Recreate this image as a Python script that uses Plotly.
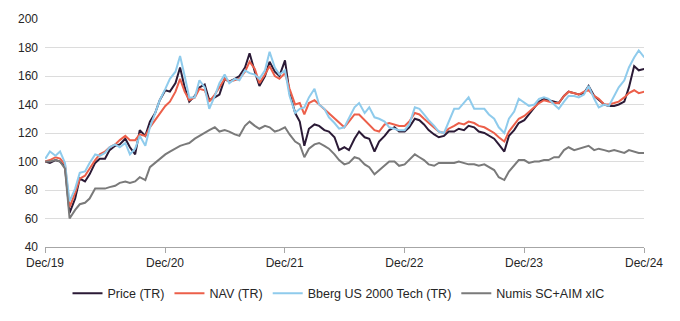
import pandas as pd
import plotly.graph_objects as go

# Semi-monthly observation dates (1st and 15th of each month), rebased to 100
dates = pd.date_range("2020-01-01", "2025-01-01", freq="SMS")

price_tr = [
    100, 99, 101, 100, 96, 64, 74, 88, 86, 91,
    99, 102, 102, 108, 111, 112, 116, 110, 105, 122,
    118, 128, 134, 143, 150, 149, 155, 166, 152, 142,
    146, 152, 154, 143, 145, 147, 158, 156, 158, 160,
    166, 176, 163, 153, 160, 170, 163, 160, 171, 148,
    134, 128, 111, 123, 126, 125, 122, 121, 117, 108,
    110, 108, 116, 121, 117, 116, 107, 114, 118, 122,
    124, 121, 121, 124, 130, 129, 126, 122, 119, 117,
    118, 121, 121, 123, 122, 125, 124, 121, 120, 118,
    116, 112, 107, 118, 122, 127, 129, 133, 138, 142,
    144, 143, 142, 141, 146, 149, 148, 147, 148, 153,
    146, 143, 140, 139, 139, 140, 142, 152, 167, 164,
    165,
]

nav_tr = [
    100, 101, 103, 102, 98, 68, 78, 88, 90, 95,
    101, 105, 107, 110, 112, 115, 118, 115, 115, 119,
    118, 124, 129, 134, 139, 142, 149, 158, 149, 143,
    145, 151, 150, 142, 147, 152, 158, 156, 157, 158,
    163, 170, 165, 155, 161, 167, 160, 158, 162, 151,
    140, 141, 133, 141, 143, 140, 137, 134, 130, 127,
    124, 128, 133, 133, 129, 126, 122, 121, 126, 127,
    126, 125, 125, 128, 134, 133, 130, 127, 124, 121,
    120, 123, 125, 127, 126, 128, 127, 125, 124, 122,
    120, 117, 114, 121, 126, 130, 132, 135, 138, 141,
    143, 142, 141, 141, 146, 149, 148, 147, 149, 150,
    146, 144, 140, 140, 141, 142, 145, 148, 150, 148,
    149,
]

bberg_us2000_tech = [
    102, 107, 104, 107, 99, 72, 81, 92, 93, 99,
    105, 104, 106, 110, 112, 110, 113, 105, 109, 118,
    111, 124, 134, 143, 151, 158, 163, 174, 160, 145,
    145, 157, 152, 137, 146, 155, 161, 155, 158, 157,
    164, 162, 161, 158, 164, 177, 166, 161, 164, 146,
    134, 137, 138, 145, 151, 140, 137, 131, 127, 123,
    124, 130, 138, 141, 134, 138, 131, 130, 128, 124,
    123, 122, 122, 126, 138, 137, 133, 129, 125, 121,
    120, 128, 137, 137, 141, 145, 137, 137, 137, 133,
    130, 124, 120, 130, 135, 144, 141, 139, 140, 144,
    145, 144, 140, 137, 142, 146, 146, 145, 147, 153,
    144, 138, 140, 139, 146, 152, 157, 166, 173, 178,
    173,
]

numis_sc_aim_xic = [
    100, 100, 101, 100, 95, 60, 66, 70, 71, 74,
    81, 81, 81, 82, 83, 85, 86, 85, 86, 89,
    87, 96, 99, 102, 105, 107, 109, 111, 112, 113,
    116, 118, 120, 122, 124, 121, 122, 121, 119, 118,
    125, 128, 125, 123, 125, 124, 121, 122, 124, 119,
    114, 112, 103, 109, 112, 113, 111, 109, 105, 101,
    98, 99, 103, 102, 98, 96, 91, 94, 97, 100,
    100, 97, 98, 101, 105, 103, 101, 98, 97, 99,
    99, 99, 99, 100, 99, 98, 98, 97, 98, 96,
    94, 89, 87, 93, 97, 101, 101, 99, 100, 100,
    101, 101, 103, 103, 108, 110, 108, 109, 110, 111,
    108, 109, 108, 107, 108, 107, 106, 108, 107, 106,
    106,
]

series_names = ["Price (TR)", "NAV (TR)", "Bberg US 2000 Tech (TR)", "Numis SC+AIM xIC"]
series_values = [price_tr, nav_tr, bberg_us2000_tech, numis_sc_aim_xic]
series_colors = ["#2b1a36", "#ec5f4a", "#8fcbec", "#7a7a7a"]

tick_dates = ["2019-12-31", "2020-12-31", "2021-12-31", "2022-12-31", "2023-12-31", "2024-12-31"]
tick_labels = ["Dec/19", "Dec/20", "Dec/21", "Dec/22", "Dec/23", "Dec/24"]

fig = go.Figure()
for name, vals, col in zip(series_names, series_values, series_colors):
    fig.add_trace(go.Scatter(
        x=dates, y=vals, name=name, mode="lines",
        line=dict(color=col, width=2),
    ))

font_family = "Liberation Sans, Arial, sans-serif"
fig.update_layout(
    width=680, height=321,
    margin=dict(l=45, r=36, t=15, b=73),
    paper_bgcolor="white", plot_bgcolor="white",
    font=dict(family=font_family, size=12, color="#262626"),
    showlegend=True,
    legend=dict(
        orientation="h", x=0.49, xanchor="center", y=-0.205, yanchor="middle",
        font=dict(size=12.5, color="#262626"), itemwidth=30, tracegroupgap=0,
        bgcolor="rgba(0,0,0,0)",
    ),
    xaxis=dict(
        range=["2019-12-31", "2024-12-31"],
        tickvals=tick_dates, ticktext=tick_labels,
        showgrid=False, zeroline=False,
        showline=True, linecolor="#a6a6a6", linewidth=1,
        ticks="outside", ticklen=5, tickcolor="#a6a6a6",
        tickfont=dict(size=12, color="#262626"),
    ),
    yaxis=dict(
        range=[40, 200], dtick=20, tick0=40,
        showgrid=True, gridcolor="#dcdcdc", gridwidth=1,
        zeroline=False, showline=False, ticks="",
        tickfont=dict(size=12, color="#262626"),
        ticklabelstandoff=6,
    ),
)

fig.write_html("out.html")
